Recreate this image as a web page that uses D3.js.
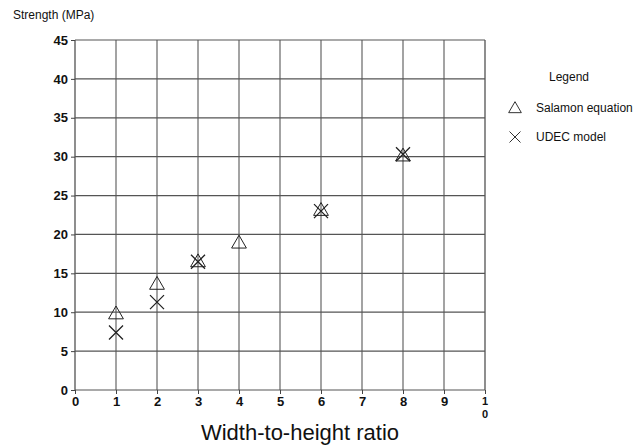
<!DOCTYPE html>
<html>
<head>
<meta charset="utf-8">
<script src="https://cdn.jsdelivr.net/npm/d3@7"></script>
<style>
  body { margin: 0; background: #fff; }
  text { font-family: "Liberation Sans", Arial, sans-serif; fill: #111; }
</style>
</head>
<body>
<div id="chart"></div>
<script>
// data
const ratios = [1, 2, 3, 4, 6, 8];
const salamon = [9.7, 13.5, 16.4, 18.8, 23.0, 30.0];
const udecRatios = [1, 2, 3, 6, 8];
const udec = [7.4, 11.3, 16.5, 23.0, 30.3];
const xTicks = [0, 1, 2, 3, 4, 5, 6, 7, 8, 9, 10];
const yTicks = [0, 5, 10, 15, 20, 25, 30, 35, 40, 45];

const width = 644, height = 447;
const margin = { top: 40, right: 159, bottom: 57, left: 75 };

const svg = d3.select('#chart')
  .append('svg')
  .attr('width', width)
  .attr('height', height);

const x = d3.scaleLinear().domain([0, 10]).range([margin.left, width - margin.right]);
const y = d3.scaleLinear().domain([0, 45]).range([height - margin.bottom, margin.top]);

// grid
svg.append('g')
  .selectAll('line')
  .data(xTicks)
  .enter()
  .append('line')
  .attr('x1', d => x(d)).attr('x2', d => x(d))
  .attr('y1', y(0)).attr('y2', y(45))
  .attr('stroke', d => (d === 0 || d === 10) ? '#444' : '#666')
  .attr('stroke-width', 1.2);

svg.append('g')
  .selectAll('line')
  .data(yTicks)
  .enter()
  .append('line')
  .attr('x1', x(0)).attr('x2', x(10))
  .attr('y1', d => y(d)).attr('y2', d => y(d))
  .attr('stroke', '#555')
  .attr('stroke-width', 1.2);

// axes
const xAxis = svg.append('g')
  .attr('transform', `translate(0,${y(0)})`)
  .call(d3.axisBottom(x).tickValues(xTicks).tickSize(4));
const yAxis = svg.append('g')
  .attr('transform', `translate(${x(0)},0)`)
  .call(d3.axisLeft(y).tickValues(yTicks).tickSize(4));

[xAxis, yAxis].forEach(a => {
  a.select('.domain').remove();
  a.selectAll('line').attr('stroke', '#444');
  a.selectAll('text')
    .style('font-size', '13px')
    .style('font-weight', 'bold')
    .attr('fill', '#111');
});
yAxis.selectAll('text').attr('x', -7);
xAxis.selectAll('text').attr('y', 7);

// the "10" label is wrapped into two lines in the original
xAxis.selectAll('.tick').filter(d => d === 10).select('text').remove();
['1', '0'].forEach((s, i) => {
  xAxis.append('text')
    .attr('x', x(10))
    .attr('y', 15 + i * 13)
    .attr('text-anchor', 'middle')
    .style('font-size', '11px')
    .style('font-weight', 'bold')
    .attr('fill', '#111')
    .text(s);
});

// axis titles
svg.append('text')
  .attr('x', 13)
  .attr('y', 19)
  .style('font-size', '12px')
  .text('Strength (MPa)');

svg.append('text')
  .attr('x', 300)
  .attr('y', 440)
  .attr('text-anchor', 'middle')
  .style('font-size', '22px')
  .attr('fill', '#333')
  .text('Width-to-height ratio');

// markers
const triangle = d3.symbol().type(d3.symbolTriangle).size(95);
const cross = (cx, cy, r) => `M${cx - r},${cy - r}L${cx + r},${cy + r}M${cx - r},${cy + r}L${cx + r},${cy - r}`;

svg.append('g')
  .selectAll('path')
  .data(ratios)
  .enter()
  .append('path')
  .attr('transform', (d, i) => `translate(${x(d)},${y(salamon[i])})`)
  .attr('d', triangle)
  .attr('fill', 'none')
  .attr('stroke', '#222')
  .attr('stroke-width', 1);

svg.append('g')
  .selectAll('path')
  .data(udecRatios)
  .enter()
  .append('path')
  .attr('d', (d, i) => cross(x(d), y(udec[i]), 7))
  .attr('fill', 'none')
  .attr('stroke', '#222')
  .attr('stroke-width', 1.3);

// legend
const legend = svg.append('g');
legend.append('text')
  .attr('x', 549).attr('y', 81)
  .style('font-size', '12px')
  .text('Legend');
legend.append('path')
  .attr('transform', 'translate(515,109)')
  .attr('d', d3.symbol().type(d3.symbolTriangle).size(70))
  .attr('fill', 'none')
  .attr('stroke', '#333');
legend.append('text')
  .attr('x', 536).attr('y', 112)
  .style('font-size', '12px')
  .text('Salamon equation');
legend.append('path')
  .attr('d', cross(515, 137, 5.5))
  .attr('fill', 'none')
  .attr('stroke', '#333');
legend.append('text')
  .attr('x', 536).attr('y', 141)
  .style('font-size', '12px')
  .text('UDEC model');
</script>
</body>
</html>
